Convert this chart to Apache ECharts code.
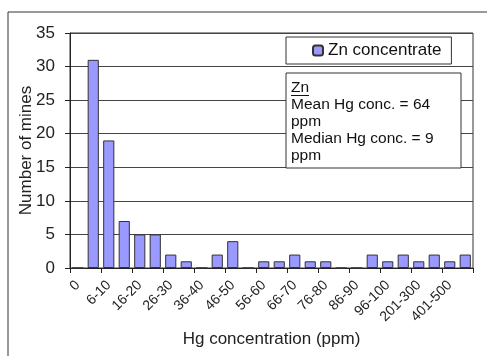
<!DOCTYPE html>
<html>
<head>
<meta charset="utf-8">
<script src="https://cdn.jsdelivr.net/npm/echarts@6/dist/echarts.min.js"></script>
<style>
  html, body { margin: 0; padding: 0; background: #fff; }
  #main { width: 487px; height: 356px; }
</style>
</head>
<body>
<div id="main"></div>
<script>
// Hg concentration classes (ppm) and number of Zn mines in each
var categories = ['0', '1-5', '6-10', '11-15', '16-20', '21-25', '26-30', '31-35', '36-40',
  '41-45', '46-50', '51-55', '56-60', '61-65', '66-70', '71-75', '76-80', '81-85', '86-90',
  '91-95', '96-100', '101-200', '201-300', '301-400', '401-500', '>500'];
var mineCounts = [0, 31, 19, 7, 5, 5, 2, 1, 0, 2, 4, 0, 1, 1, 2, 1, 1, 0, 0, 2, 1, 2, 1, 2, 1, 2];
var yTicks = { min: 0, max: 35, interval: 5 };
var statLines = ['Zn', 'Mean Hg conc. = 64', 'ppm', 'Median Hg conc. = 9', 'ppm'];

var myChart = echarts.init(document.getElementById('main'));
var font = 'Liberation Sans, Arial, sans-serif';

var option = {
  animation: false,
  textStyle: { fontFamily: font },
  grid: { left: 70, right: 14, top: 33, bottom: 88, show: true, borderColor: '#333', borderWidth: 1 },
  legend: {
    data: ['Zn concentrate'],
    left: 286, top: 37, width: 175, height: 30,
    padding: [5, 10, 5, 26],
    backgroundColor: '#fff', borderColor: '#333', borderWidth: 1,
    itemWidth: 10, itemHeight: 10, itemGap: 4,
    textStyle: { fontSize: 17, color: '#111', fontFamily: font }
  },
  xAxis: {
    type: 'category',
    data: categories,
    name: 'Hg concentration (ppm)',
    nameLocation: 'middle',
    nameGap: 63,
    nameMoveOverlap: false,
    nameTextStyle: { fontSize: 17, color: '#222' },
    axisLine: { lineStyle: { color: '#222' } },
    axisTick: { show: true, length: 5, lineStyle: { color: '#222' } },
    axisLabel: { interval: 1, rotate: 45, fontSize: 14, color: '#222', margin: 15 }
  },
  yAxis: {
    type: 'value',
    min: yTicks.min, max: yTicks.max, interval: yTicks.interval,
    name: 'Number of mines',
    nameLocation: 'middle',
    nameGap: 35,
    nameMoveOverlap: false,
    nameTextStyle: { fontSize: 17, color: '#222' },
    axisLine: { show: true, lineStyle: { color: '#222' } },
    axisTick: { show: true, length: 5, lineStyle: { color: '#222' } },
    axisLabel: { fontSize: 17, color: '#222', margin: 15 },
    splitLine: { lineStyle: { color: '#444', width: 1 } }
  },
  series: [{
    name: 'Zn concentrate',
    type: 'bar',
    data: mineCounts,
    barCategoryGap: '28%',
    itemStyle: { color: '#9999ff', borderColor: '#333', borderWidth: 1 }
  }],
  graphic: [
    // outer chart frame
    { type: 'polyline', z: 50, shape: { points: [[8, 356], [8, 12], [487, 12]] },
      style: { stroke: '#333', lineWidth: 1, fill: null } },
    // stats box
    { type: 'rect', z: 50, shape: { x: 286, y: 73, width: 175, height: 95 },
      style: { fill: '#fff', stroke: '#333', lineWidth: 1 } },
    { type: 'text', z: 51, left: 291, top: 79,
      style: { text: statLines.join('\n'), fontSize: 15.5, lineHeight: 17, fill: '#111', fontFamily: font } },
    { type: 'line', z: 51, shape: { x1: 291, y1: 95.5, x2: 309, y2: 95.5 }, style: { stroke: '#111', lineWidth: 1 } }
  ]
};
myChart.setOption(option);
</script>
</body>
</html>
